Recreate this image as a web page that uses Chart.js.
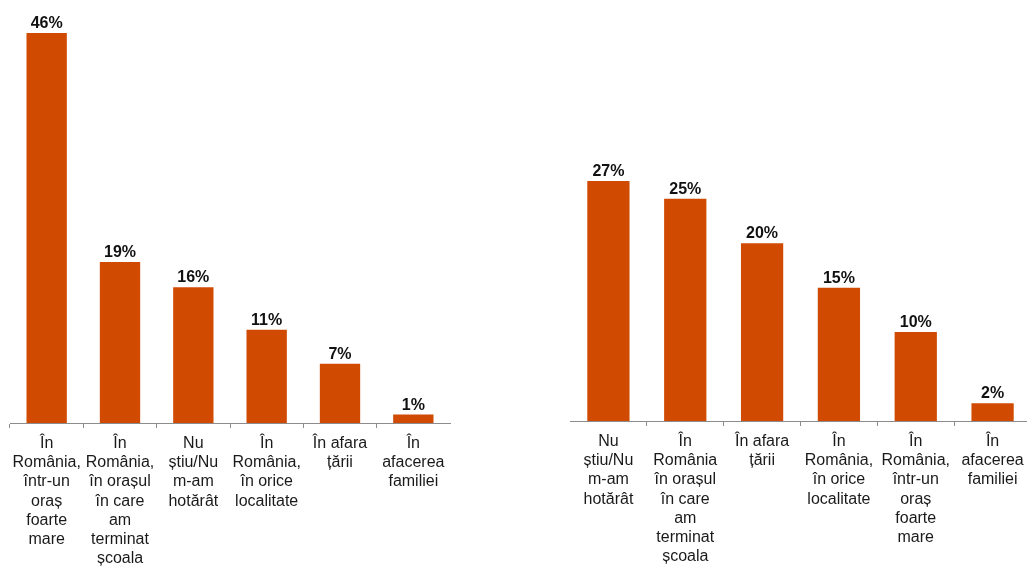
<!DOCTYPE html>
<html>
<head>
<meta charset="utf-8">
<script src="https://cdn.jsdelivr.net/npm/chart.js@4/dist/chart.umd.min.js"></script>
<style>
html,body{margin:0;padding:0;background:#fff;overflow:hidden;width:1027px;height:566px;}
.box{position:absolute;top:0;height:566px;}
</style>
</head>
<body>
<div class="box" style="left:0;width:460px;"><canvas id="c1"></canvas></div>
<div class="box" style="left:560px;width:471px;"><canvas id="c2"></canvas></div>
<script>
const leftCategories = [
  ["În","România,","într-un","oraș","foarte","mare"],
  ["În","România,","în orașul","în care","am","terminat","școala"],
  ["Nu","știu/Nu","m-am","hotărât"],
  ["În","România,","în orice","localitate"],
  ["În afara","țării"],
  ["În","afacerea","familiei"]
];
const leftValues = [46, 19, 16, 11, 7, 1];

const rightCategories = [
  ["Nu","știu/Nu","m-am","hotărât"],
  ["În","România","în orașul","în care","am","terminat","școala"],
  ["În afara","țării"],
  ["În","România,","în orice","localitate"],
  ["În","România,","într-un","oraș","foarte","mare"],
  ["În","afacerea","familiei"]
];
const rightValues = [27, 25, 20, 15, 10, 2];

const BAR = '#D04A02';
const AXIS = '#8c8c8c';
const FONT = "'Liberation Sans', Arial, sans-serif";

const valueLabels = {
  id: 'valueLabels',
  afterDatasetsDraw(chart) {
    const ctx = chart.ctx;
    const meta = chart.getDatasetMeta(0);
    const data = chart.data.datasets[0].data;
    ctx.save();
    ctx.font = 'bold 16px ' + FONT;
    ctx.fillStyle = '#111';
    ctx.textAlign = 'center';
    ctx.textBaseline = 'alphabetic';
    meta.data.forEach((bar, i) => {
      ctx.fillText(data[i] + '%', bar.x, bar.y - 5);
    });
    ctx.restore();
  }
};

function makeChart(id, labels, values, maxV, padTop, padLeft, padRight, axisH, tickColor) {
  return new Chart(document.getElementById(id), {
    type: 'bar',
    data: {
      labels: labels,
      datasets: [{
        data: values,
        backgroundColor: BAR,
        borderWidth: 0,
        barPercentage: 0.55,
        categoryPercentage: 1
      }]
    },
    options: {
      responsive: true,
      maintainAspectRatio: false,
      animation: false,
      layout: { padding: { top: padTop, left: padLeft, right: padRight, bottom: 0 } },
      plugins: { legend: { display: false }, tooltip: { enabled: false } },
      scales: {
        x: {
          offset: true,
          afterFit(scale) { scale.height = axisH; },
          border: { display: true, color: AXIS, width: 1 },
          grid: {
            offset: true,
            drawOnChartArea: false,
            drawTicks: true,
            tickLength: 5,
            color: tickColor
          },
          ticks: {
            autoSkip: false,
            maxRotation: 0,
            minRotation: 0,
            padding: 6,
            color: '#1a1a1a',
            font: { family: FONT, size: 16, lineHeight: 1.2 }
          }
        },
        y: {
          display: false,
          min: 0,
          max: maxV
        }
      }
    },
    plugins: [valueLabels]
  });
}

makeChart('c1', leftCategories, leftValues, 46, 33, 10, 10, 566 - 423,
  c => c.type === 'tick' ? AXIS : 'transparent');
makeChart('c2', rightCategories, rightValues, 45, 21, 10, 0, 566 - 421,
  c => (c.type === 'tick' && c.index === 0) ? 'transparent' : AXIS);
</script>
</body>
</html>
